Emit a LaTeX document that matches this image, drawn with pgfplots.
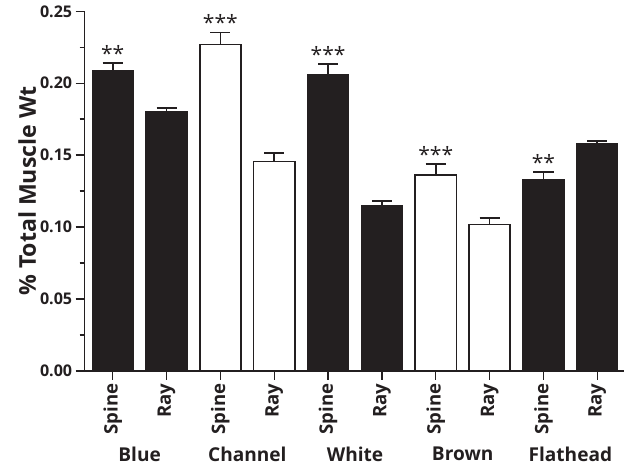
\documentclass[border={15bp 4bp 7bp 2bp}]{standalone}
\usepackage{pgfplots}
\usepackage{pgfplotstable}
\pgfplotsset{compat=1.18}
\usepackage{fontspec}
\setmainfont{Open Sans}
\definecolor{barblack}{HTML}{231F20}

\pgfplotstableread{
x y err
0 0.209 0.0052
1 0.180 0.0027
4 0.2062 0.0073
5 0.115 0.0032
8 0.1329 0.0054
9 0.1578 0.0019
}\darkbars
\pgfplotstableread{
x y err
2 0.227 0.0083
3 0.1457 0.0058
6 0.1362 0.0077
7 0.1017 0.0047
}\whitebars
\pgfplotstableread{
x y lab
0 0.2142 **
2 0.2353 ***
4 0.2135 ***
6 0.1439 ***
8 0.1383 **
}\stars

\begin{document}
\begin{tikzpicture}
\begin{axis}[
  scale only axis,
  width=537bp, height=358bp,
  xmin=-0.52, xmax=9.5,
  ymin=0, ymax=0.25,
  axis x line*=bottom,
  hide y axis,
  axis line style={draw=none},
  xtick={0.5,2.5,4.5,6.5,8.5},
  xticklabels={Blue,Channel,White,Brown,Flathead},
  major tick length=0pt,
  xticklabel style={anchor=north, yshift=-72bp, font=\fontsize{19bp}{21bp}\selectfont\bfseries, color=barblack},
]
\addplot[draw=none] coordinates {(0,0)};
\end{axis}
\begin{axis}[
  scale only axis,
  width=537bp, height=358bp,
  xmin=-0.52, xmax=9.5,
  ymin=0, ymax=0.25,
  axis lines=left,
  axis line style={-, line width=1.5bp, color=barblack},
  ytick={0,0.05,0.10,0.15,0.20,0.25},
  minor ytick={0.025,0.075,0.125,0.175,0.225},
  yticklabel style={/pgf/number format/fixed, /pgf/number format/zerofill, /pgf/number format/precision=2, font=\fontsize{16bp}{18bp}\selectfont\bfseries, color=barblack},
  /pgf/number format/assume math mode=true,
  tick align=outside,
  major tick length=9bp,
  minor tick length=5bp,
  tick style={line width=1.4bp, color=barblack},
  xtick={0,...,9},
  xticklabels={Spine,Ray,Spine,Ray,Spine,Ray,Spine,Ray,Spine,Ray},
  xticklabel style={rotate=90, anchor=east, font=\fontsize{18.5bp}{20bp}\selectfont\bfseries, color=barblack},
  ylabel={\% Total Muscle Wt},
  ylabel style={font=\fontsize{23bp}{26bp}\selectfont\bfseries, color=barblack, yshift=-3bp},
  clip=false,
]
\addplot[ybar, bar width=0.766, bar shift=0pt, fill=barblack, draw=barblack, line width=1bp,
  error bars/.cd, y dir=plus, y explicit,
  error bar style={line width=1.6bp, color=barblack},
  error mark options={rotate=90, mark size=10bp, line width=1.6bp, color=barblack}]
  table[x=x, y=y, y error=err] {\darkbars};
\addplot[ybar, bar width=0.766, bar shift=0pt, fill=white, draw=barblack, line width=1.6bp,
  error bars/.cd, y dir=plus, y explicit,
  error bar style={line width=1.6bp, color=barblack},
  error mark options={rotate=90, mark size=10bp, line width=1.6bp, color=barblack}]
  table[x=x, y=y, y error=err] {\whitebars};
\addplot[only marks, mark=none, point meta=explicit symbolic,
  nodes near coords, nodes near coords align={above},
  every node near coord/.style={font=\fontsize{21bp}{21bp}\selectfont, color=barblack, yshift=-2bp}]
  table[x=x, y=y, meta=lab] {\stars};
\end{axis}
\end{tikzpicture}
\end{document}
